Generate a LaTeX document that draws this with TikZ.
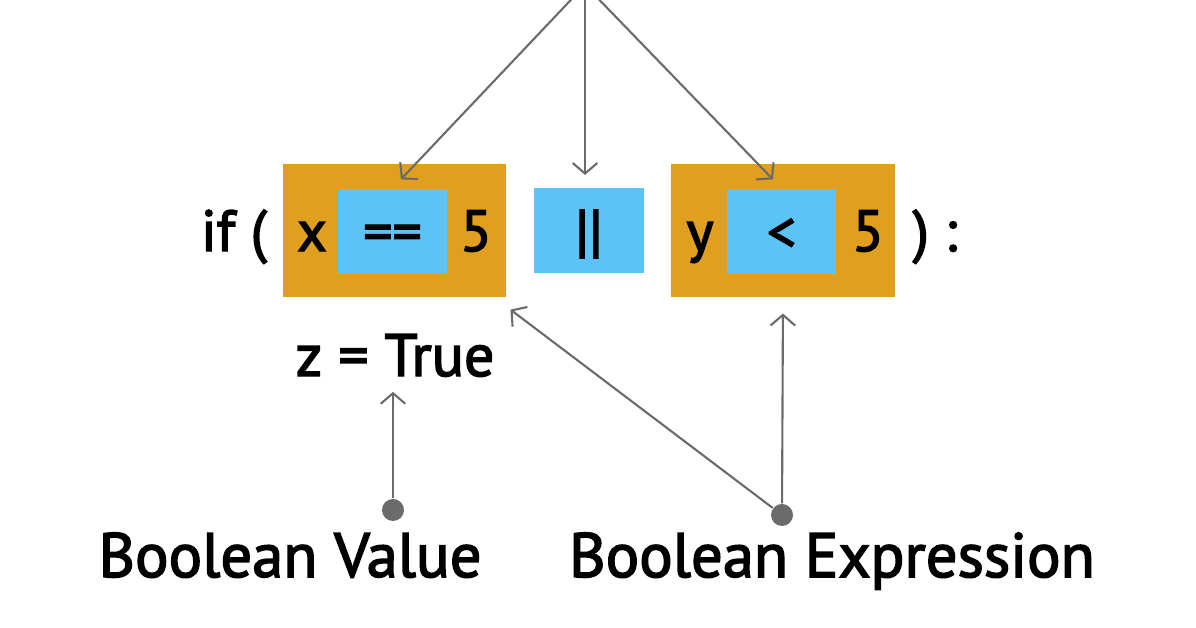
\documentclass[tikz,border=0pt]{standalone}
\usepackage{fontspec}
\setmainfont{PT Sans}
\newfontfamily\medfont{PT Sans}[FakeBold=2.4]
\usetikzlibrary{arrows.meta,positioning}

\definecolor{condorange}{HTML}{E09F1F}
\definecolor{opblue}{HTML}{5CC3F7}
\definecolor{linegray}{HTML}{6B6B6B}

\begin{document}
\begin{tikzpicture}[
    x=0.01cm, y=-0.01cm,
    cond/.style={rectangle, fill=condorange, minimum width=2.23cm, minimum height=1.33cm, inner sep=0pt},
    op/.style={rectangle, fill=opblue, minimum width=1.09cm, minimum height=0.85cm, inner sep=0pt, font=\medfont\fontsize{16.5}{19}\selectfont, text height=0.4cm, text depth=0cm},
    codetext/.style={inner sep=0pt, font=\medfont\fontsize{16.5}{19}\selectfont, text height=0.4cm, text depth=0cm},
    desc/.style={inner sep=0pt, font=\medfont\fontsize{17.8}{21}\selectfont, text height=0.42cm, text depth=0cm},
    dot/.style={circle, fill=linegray, minimum size=0.22cm, inner sep=0pt},
    arrow/.style={-{Straight Barb[length=3pt,width=7pt]}, linegray, line width=0.6pt}
]
\useasboundingbox (0,0) rectangle (1196,628);

% Condition boxes
\node[cond] (leftcond) at (394.5,230.5) {};
\node[cond] (rightcond) at (783,230.5) {};

% Operators
\node[op] (eq) at (392.5,231.5) {==};
\node[op] (orop) at (589,230.5) {||};
\node[op] (lt) at (781.5,231.5) {<};

% Code text
\node[codetext] (iftxt) at (234,231) {if (};
\node[codetext] (xvar) at (312,231) {x};
\node[codetext] (fiveA) at (476,231) {5};
\node[codetext] (yvar) at (700,231) {y};
\node[codetext] (fiveB) at (868,231) {5};
\node[codetext] (closetxt) at (935,231) {) :};
\node[codetext, font=\medfont\fontsize{17}{20}\selectfont, text height=0.36cm] (assign) at (395,358) {z = True};

% Descriptions
\node[dot] (valdot) at (393,510) {};
\node[dot] (exprdot) at (782,515) {};
\node[desc] (valtxt) at (290,556) {Boolean Value};
\node[desc] (exprtxt) at (832,556) {Boolean Expression};

% Operator arrows
\coordinate (optop) at (585,-15);
\draw[arrow, shorten >=3.5pt] (optop) -- (eq.north);
\draw[arrow, shorten >=3.5pt] (optop) -- (orop.north -| optop);
\draw[arrow, shorten >=3.5pt] (optop) -- (lt.north);

% Value and expression arrows
\draw[arrow, shorten >=4.3pt] (valdot) -- (valdot |- assign.south);
\draw[arrow, shorten >=5.6pt] (exprdot) -- ([xshift=-0.12cm]leftcond.south east);
\draw[arrow, shorten >=4.5pt] (exprdot) -- (rightcond.south);

\end{tikzpicture}
\end{document}
